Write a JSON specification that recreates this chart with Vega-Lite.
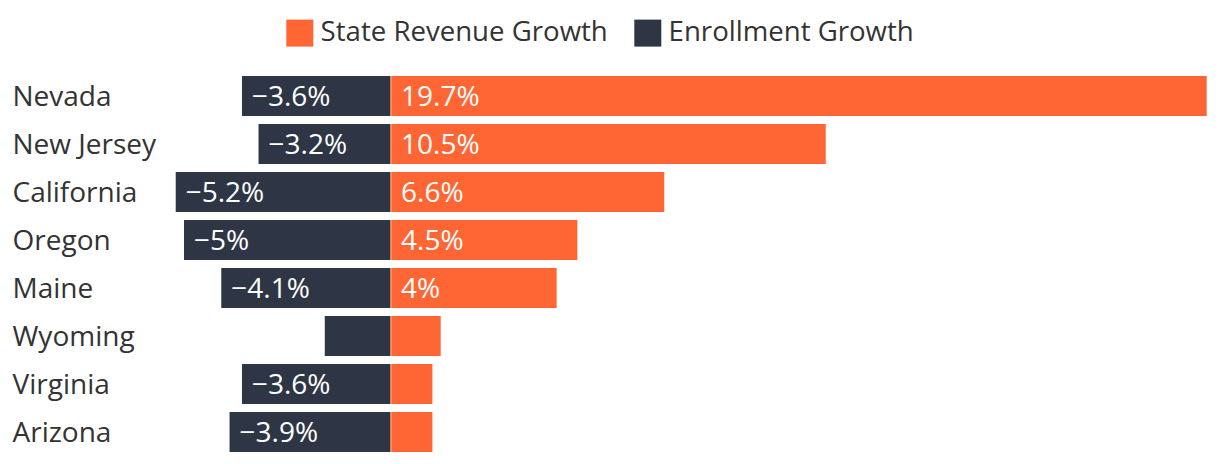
{
  "$schema": "https://vega.github.io/schema/vega-lite/v6.json",
  "width": 1040,
  "height": 384,
  "autosize": {"type": "none"},
  "padding": {"left": 170, "top": 72, "right": 10, "bottom": 8},
  "background": "white",
  "config": {"view": {"stroke": null}, "font": "Open Sans"},
  "data": {
    "values": [
      {"state": "Nevada", "series": "State Revenue Growth", "value": 19.7, "label": "19.7%"},
      {"state": "Nevada", "series": "Enrollment Growth", "value": -3.6, "label": "−3.6%"},
      {"state": "New Jersey", "series": "State Revenue Growth", "value": 10.5, "label": "10.5%"},
      {"state": "New Jersey", "series": "Enrollment Growth", "value": -3.2, "label": "−3.2%"},
      {"state": "California", "series": "State Revenue Growth", "value": 6.6, "label": "6.6%"},
      {"state": "California", "series": "Enrollment Growth", "value": -5.2, "label": "−5.2%"},
      {"state": "Oregon", "series": "State Revenue Growth", "value": 4.5, "label": "4.5%"},
      {"state": "Oregon", "series": "Enrollment Growth", "value": -5.0, "label": "−5%"},
      {"state": "Maine", "series": "State Revenue Growth", "value": 4.0, "label": "4%"},
      {"state": "Maine", "series": "Enrollment Growth", "value": -4.1, "label": "−4.1%"},
      {"state": "Wyoming", "series": "State Revenue Growth", "value": 1.2, "label": "1.2%"},
      {"state": "Wyoming", "series": "Enrollment Growth", "value": -1.6, "label": "−1.6%"},
      {"state": "Virginia", "series": "State Revenue Growth", "value": 1.0, "label": "1%"},
      {"state": "Virginia", "series": "Enrollment Growth", "value": -3.6, "label": "−3.6%"},
      {"state": "Arizona", "series": "State Revenue Growth", "value": 1.0, "label": "1%"},
      {"state": "Arizona", "series": "Enrollment Growth", "value": -3.9, "label": "−3.9%"}
    ]
  },
  "encoding": {
    "y": {
      "field": "state",
      "type": "nominal",
      "sort": ["Nevada", "New Jersey", "California", "Oregon", "Maine", "Wyoming", "Virginia", "Arizona"],
      "scale": {"paddingInner": 0.1667, "paddingOuter": 0.0833},
      "axis": {
        "title": null,
        "ticks": false,
        "domain": false,
        "grid": false,
        "labelAlign": "left",
        "labelPadding": 158,
        "labelOffset": 2,
        "labelFontSize": 28,
        "labelColor": "#333333",
        "labelFont": "Open Sans",
        "labelLimit": 0
      }
    }
  },
  "layer": [
    {
      "mark": {"type": "bar"},
      "encoding": {
        "x": {
          "field": "value",
          "type": "quantitative",
          "scale": {"domain": [-5.338, 19.78], "nice": false, "zero": false},
          "axis": null
        },
        "color": {
          "field": "series",
          "type": "nominal",
          "scale": {"domain": ["State Revenue Growth", "Enrollment Growth"], "range": ["#ff6633", "#2e3646"]},
          "legend": {
            "title": null,
            "orient": "none",
            "legendX": 116,
            "legendY": -53,
            "direction": "horizontal",
            "symbolType": "square",
            "symbolSize": 729,
            "symbolStrokeWidth": 0,
            "labelFontSize": 27.6,
            "labelFont": "Open Sans",
            "labelColor": "#333333",
            "labelLimit": 0,
            "labelOffset": 7,
            "columnPadding": 26
          }
        }
      }
    },
    {
      "transform": [{"filter": "datum.series === 'State Revenue Growth'"}],
      "mark": {"type": "tick", "color": "#ffa37c", "thickness": 2, "size": 40},
      "encoding": {"x": {"datum": 0, "type": "quantitative"}}
    },
    {
      "transform": [{"filter": "datum.series === 'Enrollment Growth' && datum.value <= -2"}],
      "mark": {"type": "text", "align": "left", "baseline": "middle", "dx": 10, "dy": 2, "fontSize": 28, "color": "white", "font": "Open Sans"},
      "encoding": {
        "x": {"field": "value", "type": "quantitative"},
        "text": {"field": "label"}
      }
    },
    {
      "transform": [{"filter": "datum.series === 'State Revenue Growth' && datum.value >= 2"}],
      "mark": {"type": "text", "align": "left", "baseline": "middle", "dx": 10, "dy": 2, "fontSize": 28, "color": "white", "font": "Open Sans"},
      "encoding": {
        "x": {"datum": 0, "type": "quantitative"},
        "text": {"field": "label"}
      }
    }
  ]
}
